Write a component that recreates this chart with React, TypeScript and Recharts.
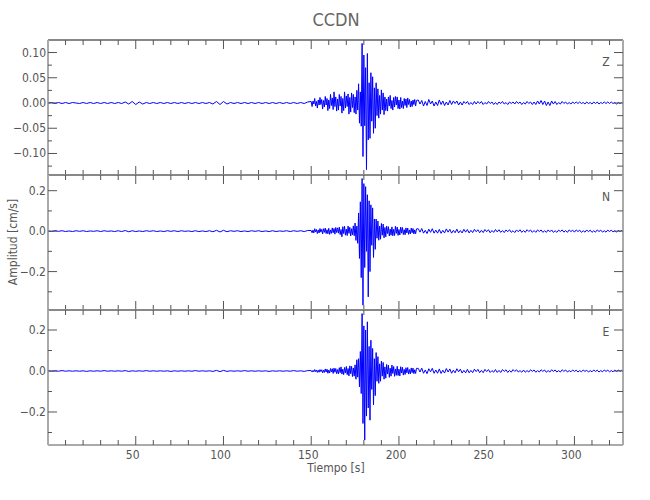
import React from "react"
import { LineChart, Line, XAxis, YAxis, ReferenceLine } from "recharts"

// amplitudes in units of 0.001 cm/s
// pre-event noise: t = 0, 2, 4 ... s
const Z_PRE = [
  0, 1, -1, 1, -1, 1, -1, 1, 0, -1,
  1, -1, 1, -1, 1, -1, 1, -1, 1, -1,
  1, -1, 2, -2, 3, -3, 2, -2, 1, -1,
  1, -1, 1, -1, 1, -1, 1, -1, 1, -1,
  1, -1, 1, -1, 1, -1, 1, -2, 3, -3,
  3, -2, 1, -1, 1, -1, 1, -1, 1, -1,
  1, -1, 1, -1, 1, -1, 1, -1, 1, -1,
  1, -1, 1, -1, 2,
]
const N_PRE = [
  1, -2, 2, -1, 2, -2, 1, -2, 2, -1,
  2, -2, 1, -1, 2, -2, 2, -1, 1, -2,
  2, -2, 3, -3, 2, -2, 1, -2, 2, -1,
  2, -2, 1, -2, 2, -1, 2, -2, 2, -1,
  1, -2, 2, -2, 1, -2, 2, -3, 4, -4,
  4, -3, 2, -1, 2, -2, 1, -2, 2, -1,
  2, -2, 1, -2, 2, -2, 1, -1, 2, -2,
  2, -1, 2, -2, 3,
]
const E_PRE = [
  1, -1, 1, -1, 2, -1, 1, -1, 1, -1,
  1, -2, 1, -1, 1, -1, 2, -1, 1, -1,
  1, -1, 2, -2, 1, -1, 1, -1, 2, -1,
  1, -1, 1, -1, 1, -2, 1, -1, 1, -1,
  1, -1, 2, -1, 1, -1, 1, -2, 3, -3,
  3, -2, 1, -1, 1, -1, 2, -1, 1, -1,
  1, -1, 1, -2, 1, -1, 1, -1, 1, -1,
  2, -1, 1, -2, 2,
]

// main arrivals: t = 150, 150.5, 151 ... 210 s
const Z_MAIN = [
  3, -7, 4, -2, 9, -6, 3, -10, 6, -4, 11, -3, 7, -12, 5, -8, 13, -4, 9, -15,
  6, -11, 17, -5, 10, -13, 22, -7, 12, -16,
  8, -14, 17, -6, 13, -20, 9, -15, 22, -10, 14, -7, 18, -22, 11, -18, 20, -9, 17, -19,
  12, -22, 25, -14, 38, -40, 22, -46, 118, -106, 95, -45, 70, -132, 98, -73, 40, -70, 60, -36,
  52, -60, 30, -50, 40, -25, 28, -30, 15, -22, 26, -14, 20, -23,
  12, -15, 8, -16, 12, -6, 15, -11, 5, -14, 11, -8, 13, -4, 12, -11, 6, -12, 11, -9,
  4, -11, 9, -5, 8, -9, 10, -3, 7, -8, 4, -7, 6, -3, 7, -6, 5,
]
const N_MAIN = [
  3, -8, 5, -9, 12, -4, 8, -12, 6, -9, 13, -5, 9, -14, 12, -6, 15, -12, 7, -13,
  14, -16, 6, -11, 16, -8, 13, -15, 18, -7,
  16, -10, 20, -17, 8, -28, 22, -12, 24, -20, 10, -22, 25, -11, 19, -24, 12, -18, 26, -23,
  40, -46, 25, -60, 90, -135, 145, -230, 260, -366, 235, -180, 220, -100, 180, -325, 150, -200, 130, -70,
  115, -130, 60, -90, 60, -35, 50, -45, 25, -40, 38, -20, 35, -33,
  18, -28, 25, -12, 22, -24, 10, -20, 21, -23, 9, -22, 24, -11, 20, -21, 8, -19, 20, -10,
  18, -17, 7, -18, 16, -9, 15, -16, 6, -14, 15, -8, 13, -14, 6, -13, 11,
]
const E_MAIN = [
  2, -5, 3, -4, 7, -3, 5, -7, 4, -6, 7, -3, 6, -9, 4, -7, 10, -5, 9, -11,
  4, -10, 12, -5, 11, -12, 14, -6, 12, -13,
  7, -14, 16, -8, 20, -15, 9, -18, 17, -10, 22, -18, 12, -24, 25, -13, 23, -27, 15, -25,
  30, -40, 55, -30, 60, -77, 95, -110, 280, -256, 220, -337, 200, -220, 240, -180, 120, -240, 150, -90,
  110, -166, 60, -120, 90, -50, 70, -60, 35, -50, 48, -25, 42, -40,
  20, -35, 32, -15, 28, -31, 14, -25, 29, -12, 22, -26, 10, -21, 23, -22, 9, -24, 21, -10,
  18, -20, 8, -17, 16, -9, 17, -15, 7, -14, 15, -8, 14, -13, 6, -12, 13,
]

// coda: t = 211, 212 ... 327 s
const Z_CODA = [
  6, -2, 5, -6, 3, -5, 7, -2, 4, -6,
  2, -5, 6, -3, 4, -5, 2, -4, 5, -3,
  4, -1, 4, -4, 2, -4, 3, -1, 3, -3,
  1, -3, 3, -2, 3, -1, 3, -3, 1, -2,
  3, -1, 2, -3, 1, -3, 2, -1, 3, -2,
  1, -3, 2, -1, 2, -2, 3, -1, 2, -3,
  1, -2, 3, -1, 2, -3, 2, -3, 4, -2,
  5, -3, 4, -5, 2, -5, 4, -2, 3, -3,
  1, -2, 3, -1, 2, -2, 1, -2, 2, -1,
  2, -1, 2, -1, 1, -2, 2, -1, 1, -2,
  2, -1, 2, -2, 1, -1, 2, -1, 2, -1,
  2, -1, 1, -2, 1, -1, 1,
]
const N_CODA = [
  12, -5, 13, -10, 4, -12, 10, -6, 12, -10,
  5, -10, 9, -11, 4, -9, 11, -5, 9, -10,
  4, -8, 10, -9, 3, -9, 9, -5, 8, -9,
  4, -7, 9, -3, 7, -8, 4, -7, 8, -3,
  7, -8, 3, -6, 8, -4, 7, -6, 3, -7,
  6, -3, 7, -6, 2, -7, 6, -3, 7, -6,
  3, -6, 7, -2, 6, -6, 3, -6, 6, -2,
  6, -6, 2, -6, 6, -3, 6, -6, 2, -6,
  5, -2, 6, -5, 3, -6, 6, -2, 5, -5,
  6, -2, 5, -6, 2, -5, 6, -3, 5, -6,
  2, -5, 6, -2, 5, -5, 2, -5, 5, -2,
  5, -4, 2, -5, 4, -2, 4,
]
const E_CODA = [
  13, -5, 14, -11, 5, -13, 11, -4, 13, -11,
  5, -11, 10, -12, 4, -10, 12, -5, 10, -11,
  4, -9, 11, -4, 9, -10, 3, -9, 8, -9,
  3, -8, 9, -3, 8, -8, 3, -8, 8, -3,
  7, -7, 2, -6, 7, -7, 3, -7, 7, -2,
  6, -7, 3, -6, 7, -2, 6, -5, 2, -6,
  5, -6, 2, -5, 6, -2, 5, -6, 2, -5,
  6, -2, 5, -6, 2, -5, 6, -2, 5, -5,
  2, -5, 6, -2, 5, -5, 2, -4, 5, -2,
  4, -5, 2, -4, 5, -2, 4, -5, 2, -4,
  5, -2, 4, -5, 2, -4, 5, -2, 4, -4,
  2, -4, 5, -2, 4, -1, 4,
]

const X_TICKS = [10, 20, 30, 40, 50, 60, 70, 80, 90, 100, 110, 120, 130, 140, 150, 160, 170, 180, 190, 200, 210, 220, 230, 240, 250, 260, 270, 280, 290, 300, 310, 320]
const Z_TICKS = [-0.125, -0.1, -0.075, -0.05, -0.025, 0, 0.025, 0.05, 0.075, 0.1]
const Z_MAJOR = [-0.1, -0.05, 0, 0.05, 0.1]
const NE_TICKS = [-0.3, -0.2, -0.1, 0, 0.1, 0.2]
const NE_MAJOR = [-0.2, 0, 0.2]

const T_END = 327.68

function seg(vals: number[], start: number, step: number) {
  return vals.map((v, i) => ({ t: start + i * step, v: v / 1000 }))
}

const zData = [...seg(Z_PRE, 0, 2), ...seg(Z_MAIN, 150, 0.5), ...seg(Z_CODA, 211, 1)]
const nData = [...seg(N_PRE, 0, 2), ...seg(N_MAIN, 150, 0.5), ...seg(N_CODA, 211, 1)]
const eData = [...seg(E_PRE, 0, 2), ...seg(E_MAIN, 150, 0.5), ...seg(E_CODA, 211, 1)]

const FONT = "'Liberation Sans Narrow', 'DejaVu Sans Condensed', 'Roboto Condensed', sans-serif"
const TXT = "#555"
const AXIS = "#aaa"
const TICK = "#555"

const LEFT = 48
const RIGHT = 623
const PH = 135 // plot height
const MT = 5 // chart top margin

type PanelProps = {
  top: number
  data: { t: number; v: number }[]
  domain: [number, number]
  ticks: number[]
  major: number[]
  decimals: number
  labels: boolean
}

function fmt(v: number, d: number) {
  const s = Math.abs(v).toFixed(d)
  return v < 0 ? "\u2212" + s : s
}

function Panel({ top, data, domain, ticks, major, decimals, labels }: PanelProps) {
  const isMajor = (v: number) => major.some((m) => Math.abs(m - v) < 1e-9)

  const xTick = (p: any) => {
    const v = p.payload.value
    const x = p.x
    const len = v % 50 === 0 ? 9 : 5
    return (
      <g>
        <line x1={x} x2={x} y1={MT + PH} y2={MT + PH - len} stroke={TICK} strokeWidth={1} />
        <line x1={x} x2={x} y1={MT} y2={MT + len} stroke={TICK} strokeWidth={1} />
        {labels && v % 50 === 0 ? (
          <text x={x - 3} y={MT + PH + 14} textAnchor="middle" fontSize={12} fill={TXT} fontFamily={FONT}>
            {v}
          </text>
        ) : null}
      </g>
    )
  }

  const yTick = (p: any) => {
    const v = p.payload.value
    const y = p.y
    const mj = isMajor(v)
    const len = mj ? 9 : 4
    return (
      <g>
        <line x1={LEFT} x2={LEFT + len} y1={y} y2={y} stroke={TICK} strokeWidth={1} />
        <line x1={RIGHT} x2={RIGHT - (mj ? 9 : 6)} y1={y} y2={y} stroke={TICK} strokeWidth={1} />
        {mj ? (
          <text x={LEFT - 2} y={y + 4} textAnchor="end" fontSize={12} fill={TXT} fontFamily={FONT}>
            {fmt(v, decimals)}
          </text>
        ) : null}
      </g>
    )
  }

  return (
    <div style={{ position: "absolute", left: 0, top: top - MT }}>
      <LineChart
        width={650}
        height={MT + PH + 30}
        data={data}
        margin={{ top: MT, right: 650 - RIGHT, bottom: 0, left: 0 }}
      >
        <XAxis
          dataKey="t"
          type="number"
          domain={[0, T_END]}
          ticks={X_TICKS}
          interval={0}
          allowDataOverflow
          height={30}
          tickLine={false}
          axisLine={{ stroke: AXIS, strokeWidth: 2 }}
          tick={xTick}
        />
        <YAxis
          dataKey="v"
          type="number"
          domain={domain}
          ticks={ticks}
          interval={0}
          allowDataOverflow
          width={LEFT}
          tickLine={false}
          axisLine={{ stroke: AXIS, strokeWidth: 2 }}
          tick={yTick}
        />
        <ReferenceLine y={domain[1]} stroke="#888" strokeWidth={2} />
        <ReferenceLine x={T_END} stroke={AXIS} strokeWidth={2} />
        <Line
          dataKey="v"
          type="linear"
          stroke="#0000ff"
          strokeWidth={1}
          dot={false}
          isAnimationActive={false}
        />
      </LineChart>
    </div>
  )
}

export default function App() {
  return (
    <div style={{ position: "absolute", left: 0, top: 0, width: 650, height: 500, background: "#fff" }}>
      <Panel top={40} data={zData} domain={[-0.1426, 0.1248]} ticks={Z_TICKS} major={Z_MAJOR} decimals={2} labels={false} />
      <Panel top={175} data={nData} domain={[-0.39, 0.2776]} ticks={NE_TICKS} major={NE_MAJOR} decimals={1} labels={false} />
      <Panel top={310} data={eData} domain={[-0.361, 0.2976]} ticks={NE_TICKS} major={NE_MAJOR} decimals={1} labels={true} />
      <svg width={650} height={500} style={{ position: "absolute", left: 0, top: 0, pointerEvents: "none" }}>
        <text x={336} y={26} textAnchor="middle" fontSize={18} fill="#666" fontFamily={FONT}>
          CCDN
        </text>
        <text x={606} y={66} textAnchor="middle" fontSize={12} fill={TXT} fontFamily={FONT}>
          Z
        </text>
        <text x={606} y={201} textAnchor="middle" fontSize={12} fill={TXT} fontFamily={FONT}>
          N
        </text>
        <text x={606} y={336} textAnchor="middle" fontSize={12} fill={TXT} fontFamily={FONT}>
          E
        </text>
        <text
          x={17}
          y={242}
          textAnchor="middle"
          fontSize={12}
          fill={TXT}
          fontFamily={FONT}
          transform="rotate(-90 17 242)"
        >
          Amplitud [cm/s]
        </text>
        <text x={336} y={472} textAnchor="middle" fontSize={12} fill={TXT} fontFamily={FONT}>
          Tiempo [s]
        </text>
      </svg>
    </div>
  )
}
